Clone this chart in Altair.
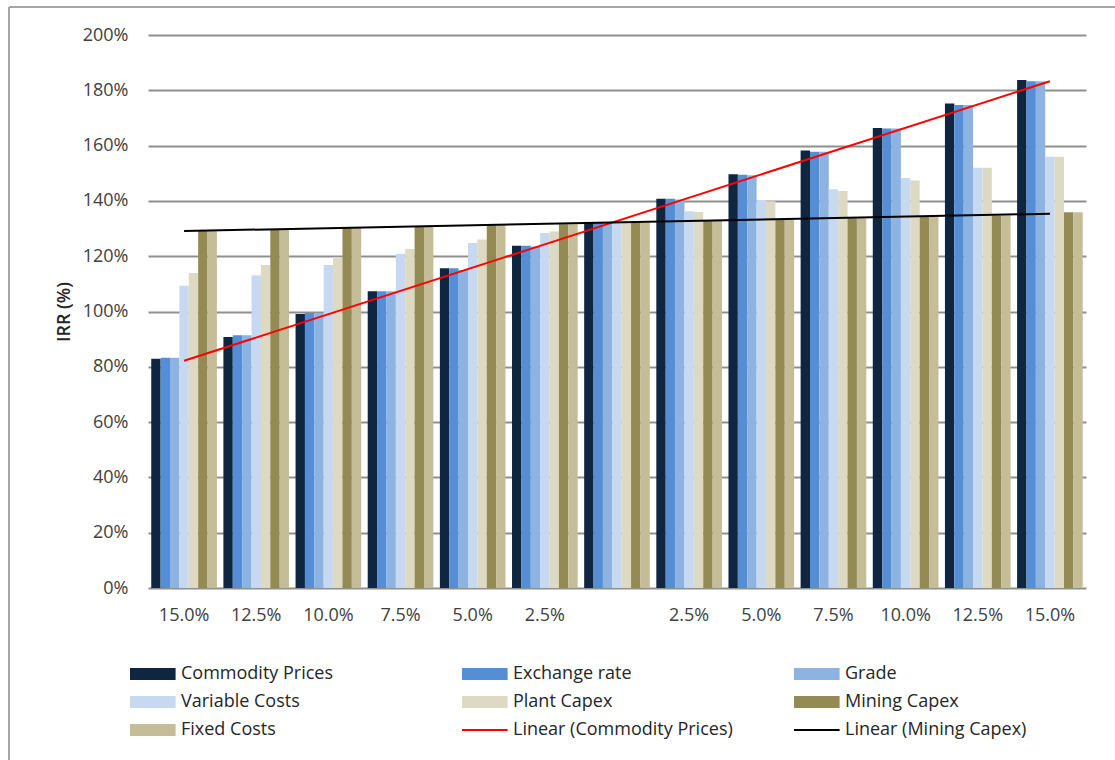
import json
import numpy as np
import pandas as pd
import altair as alt

# ---- data ----
x_labels = ["15.0%", "12.5%", "10.0%", "7.5%", "5.0%", "2.5%", "",
            "2.5%", "5.0%", "7.5%", "10.0%", "12.5%", "15.0%"]
series = ["Commodity Prices", "Exchange rate", "Grade", "Variable Costs",
          "Plant Capex", "Mining Capex", "Fixed Costs"]
colors = ["#10253F", "#558ED5", "#8DB3E2", "#C6D9F1",
          "#DDD9C3", "#948A54", "#C4BD97"]
trend_names = ["Linear (Commodity Prices)", "Linear (Mining Capex)"]
trend_colors = ["#FF0000", "#000000"]

commodity = [82.9, 90.8, 99.1, 107.3, 115.6, 123.8, 132.1, 140.8, 149.6, 158.2, 166.4, 175.2, 183.7]
exchange = [83.3, 91.4, 99.5, 107.3, 115.6, 123.8, 132.1, 140.8, 149.5, 157.8, 166.2, 174.7, 183.3]
grade = [83.3, 91.4, 99.5, 107.3, 115.0, 123.5, 132.1, 140.5, 149.3, 157.8, 166.2, 174.7, 183.3]
variable = [109.3, 113.1, 116.8, 120.9, 124.8, 128.4, 132.1, 136.3, 140.3, 144.2, 148.3, 152.0, 156.0]
plant = [113.9, 116.8, 119.7, 122.6, 126.0, 128.9, 132.1, 136.0, 139.9, 143.6, 147.4, 152.0, 156.0]
mining = [129.2, 129.7, 130.2, 130.7, 131.2, 131.6, 132.1, 132.7, 133.1, 133.7, 134.2, 134.7, 135.9]
fixed = [129.2, 129.7, 130.2, 130.7, 131.2, 131.6, 132.1, 132.7, 133.1, 133.7, 134.2, 134.7, 135.9]
y_ticks = [0, 20, 40, 60, 80, 100, 120, 140, 160, 180, 200]

values_by_series = [commodity, exchange, grade, variable, plant, mining, fixed]

idx = list(range(len(x_labels)))
bar_rows = []
for name, vals in zip(series, values_by_series):
    for i, v in zip(idx, vals):
        bar_rows.append({"idx": i, "series": name, "value": v})
bar_df = pd.DataFrame(bar_rows)

# linear trend lines fitted to the series (as Excel's linear trendline)
trend_rows = []
for name, vals in zip(trend_names, [commodity, mining]):
    slope, intercept = np.polyfit(idx, vals, 1)
    for i in (idx[0], idx[-1]):
        trend_rows.append({"idx": i, "series": name, "value": slope * i + intercept})
trend_df = pd.DataFrame(trend_rows)

FONT = "Open Sans"

color_scale = alt.Scale(domain=series + trend_names, range=colors + trend_colors)

x_axis = alt.Axis(
    labelExpr=json.dumps(x_labels) + "[datum.value]",
    labelAngle=0, domain=False, ticks=False, grid=False,
    labelFont=FONT, labelFontSize=18, labelColor="#404040", labelPadding=18,
)
x_enc = alt.X("idx:O", sort=idx, title=None, axis=x_axis,
              scale=alt.Scale(paddingInner=0.09, paddingOuter=0.045))

y_enc = alt.Y(
    "value:Q",
    scale=alt.Scale(domain=[0, 200], nice=False),
    axis=alt.Axis(
        values=y_ticks, labelExpr="datum.value + '%'",
        grid=True, gridColor="#8F8F8F", gridWidth=2,
        domain=False, ticks=False, labelPadding=20,
        labelFont=FONT, labelFontSize=18, labelColor="#404040",
        title="IRR (%)", titleFont=FONT, titleFontSize=18,
        titleFontWeight=600, titleColor="#262626", titlePadding=9,
    ),
)

legend = alt.Legend(
    title=None, orient="none", legendX=-18, legendY=627,
    columns=3, direction="horizontal", gridAlign="all",
    columnPadding=61, rowPadding=7, padding=0,
    symbolSize=576,
    symbolType={"expr": "indexof(datum.value, 'Linear') === 0 ? 'M-1,-0.08H2.8V0.08H-1Z' : 'M-1,-0.5H2.8V0.5H-1Z'"},
    symbolStrokeWidth=0,
    labelFont=FONT, labelFontSize=18, labelColor="#262626",
    labelOffset=27, labelLimit=400,
)

bars = alt.Chart(bar_df).mark_bar().encode(
    x=x_enc,
    xOffset=alt.XOffset("series:N", sort=series,
                        scale=alt.Scale(paddingInner=0, paddingOuter=0)),
    y=y_enc,
    color=alt.Color("series:N", scale=color_scale, legend=legend),
)

lines = alt.Chart(trend_df).mark_line(strokeWidth=2).encode(
    x=alt.X("idx:O", sort=idx, bandPosition=0.5),
    y=alt.Y("value:Q"),
    color=alt.Color("series:N", scale=color_scale, legend=None),
)

frame_df = pd.DataFrame({"k": [0]})
frame_top = alt.Chart(frame_df).mark_rule(color="#A6A6A6", strokeWidth=2).encode(
    x=alt.value(-139), x2=alt.value(980), y=alt.value(-28))
frame_left = alt.Chart(frame_df).mark_rule(color="#A6A6A6", strokeWidth=2).encode(
    x=alt.value(-139), y=alt.value(-28), y2=alt.value(730))

chart = alt.layer(bars, lines, frame_top, frame_left).properties(
    width=938, height=553,
    autosize=alt.AutoSizeParams(type="none"),
    padding={"left": 148, "top": 35, "right": 29, "bottom": 172},
    background="white",
).configure_view(stroke=None)

chart.save("out.html", embed_options={"renderer": "svg", "actions": False})
